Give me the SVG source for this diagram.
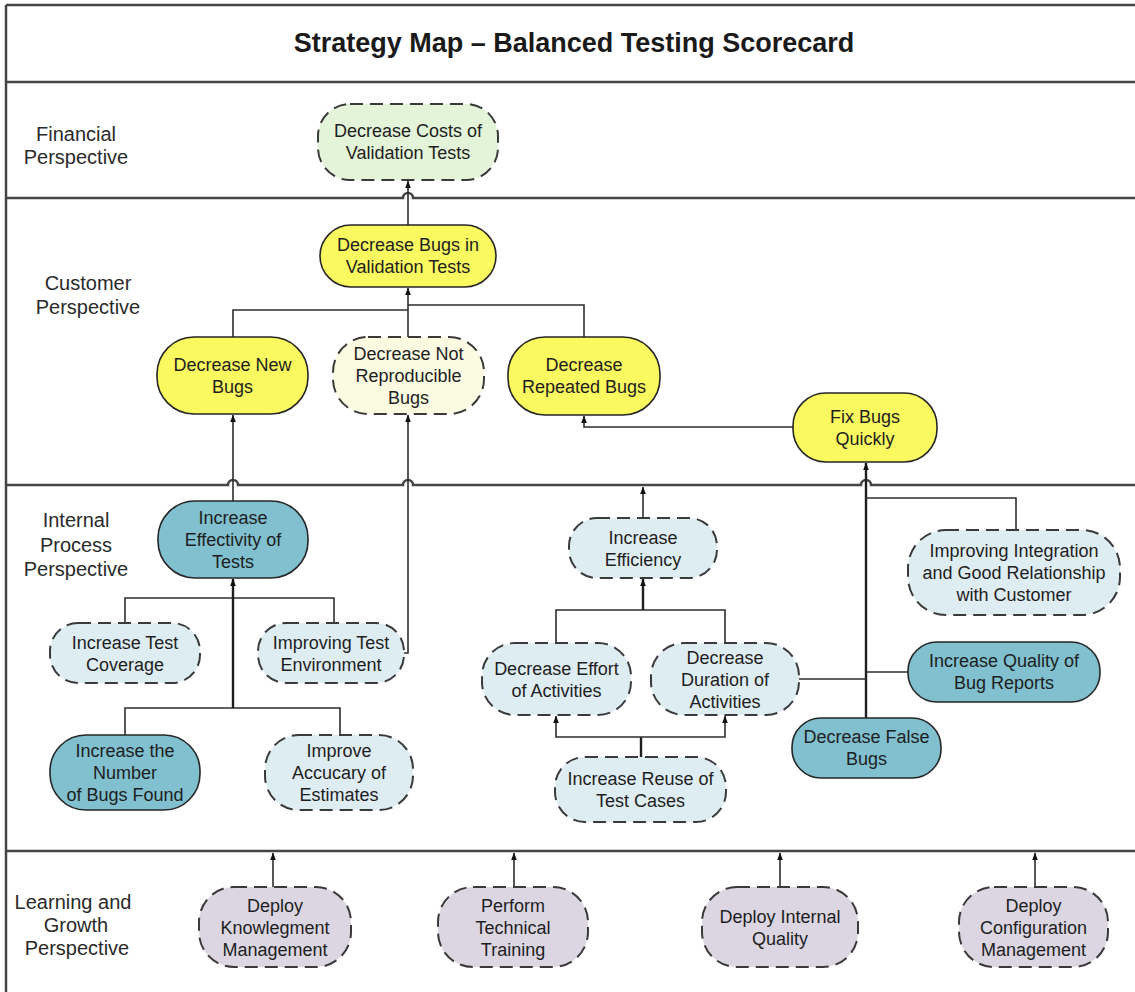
<svg xmlns="http://www.w3.org/2000/svg" width="1135" height="992" viewBox="0 0 1135 992">
<defs>
<marker id="arr" markerUnits="userSpaceOnUse" markerWidth="8" markerHeight="8" refX="7" refY="4" orient="auto">
<path d="M0,1.2 L7.5,4 L0,6.8 z" fill="#111"/>
</marker>
<style>
.band{fill:none;stroke:#454545;stroke-width:2.5}
.lbl{font-family:"Liberation Sans",Arial,sans-serif;font-size:20px;fill:#2a2a2a;text-anchor:middle}
.title{font-family:"Liberation Sans",Arial,sans-serif;font-size:27px;font-weight:bold;fill:#1a1a1a;text-anchor:middle}
.t{font-family:"Liberation Sans",Arial,sans-serif;font-size:18px;fill:#1e1e1e;text-anchor:middle}
.solid{stroke:#262626;stroke-width:1.6}
.dash{stroke:#3a3a3a;stroke-width:2;stroke-dasharray:13 7}
.green{fill:#e3f4d8}
.yellow{fill:#fafa60}
.ltyellow{fill:#fbfbe2}
.teal{fill:#80c0cf}
.ltblue{fill:#deedf2}
.purple{fill:#dbd6e2}
.c{fill:none;stroke:#2e2e2e;stroke-width:1.6}
.ct{fill:none;stroke:#1e1e1e;stroke-width:2.4}
</style>
</defs>
<rect x="0" y="0" width="1135" height="992" fill="#ffffff"/>

<g id="frame">
<path class="band" d="M6 5 H1135 M6 5 V992"/>
<path class="band" d="M6 82 H1135"/>
<path class="band" d="M6 198 H403 A5 5 0 0 1 413 198 H1135"/>
<path class="band" d="M6 485 H228 A5 5 0 0 1 238 485 H403 A5 5 0 0 1 413 485 H861 A5 5 0 0 1 871 485 H1135"/>
<path class="band" d="M6 851 H1135"/>
</g>

<g id="labels">
<text class="title" x="574" y="52">Strategy Map – Balanced Testing Scorecard</text>
<text class="lbl" x="76" y="141">Financial</text>
<text class="lbl" x="76" y="164">Perspective</text>
<text class="lbl" x="88" y="290">Customer</text>
<text class="lbl" x="88" y="314">Perspective</text>
<text class="lbl" x="76" y="527">Internal</text>
<text class="lbl" x="76" y="552">Process</text>
<text class="lbl" x="76" y="576">Perspective</text>
<text class="lbl" x="73" y="909">Learning and</text>
<text class="lbl" x="76" y="932">Growth</text>
<text class="lbl" x="77" y="955">Perspective</text>
</g>

<g id="connectors">
<path class="c" d="M408 225 V181" marker-end="url(#arr)"/>
<path class="c" d="M233 337 V310 H408"/>
<path class="c" d="M584 337 V305 H408"/>
<path class="c" d="M408 337 V288" marker-end="url(#arr)"/>
<path class="c" d="M793 427 H584 V416" marker-end="url(#arr)"/>
<path class="c" d="M233 501 V415" marker-end="url(#arr)"/>
<path class="c" d="M404 653 H408 V415" marker-end="url(#arr)"/>
<path class="c" d="M125 623 V598 H334 V623"/>
<path class="c" d="M125 735 V708 H340 V735"/>
<path class="ct" d="M233 708 V579" marker-end="url(#arr)"/>
<path class="c" d="M643 518 V487" marker-end="url(#arr)"/>
<path class="c" d="M556 643 V610 H725 V643"/>
<path class="ct" d="M643 610 V579" marker-end="url(#arr)"/>
<path class="ct" d="M641 757 V737"/>
<path class="c" d="M641 737 H556 V716" marker-end="url(#arr)"/>
<path class="c" d="M641 737 H725 V716" marker-end="url(#arr)"/>
<path class="ct" d="M866 718 V463" marker-end="url(#arr)"/>
<path class="c" d="M866 498 H1016 V530"/>
<path class="c" d="M799 679 H866"/>
<path class="c" d="M866 672 H908"/>
<path class="c" d="M273 887 V853" marker-end="url(#arr)"/>
<path class="c" d="M514 887 V853" marker-end="url(#arr)"/>
<path class="c" d="M780 887 V853" marker-end="url(#arr)"/>
<path class="c" d="M1035 887 V853" marker-end="url(#arr)"/>
</g>

<g id="n-fin">
<rect class="green dash" x="318" y="104" width="180" height="76" rx="32"/>
<text class="t" x="408" y="137">Decrease Costs of</text>
<text class="t" x="408" y="159">Validation Tests</text>
</g>

<g id="n-bugs-validation">
<rect class="yellow solid" x="320" y="225" width="176" height="62" rx="31"/>
<text class="t" x="408" y="251">Decrease Bugs in</text>
<text class="t" x="408" y="273">Validation Tests</text>
</g>

<g id="n-new-bugs">
<rect class="yellow solid" x="157" y="337" width="151" height="77" rx="37"/>
<text class="t" x="232.5" y="371">Decrease New</text>
<text class="t" x="232.5" y="393">Bugs</text>
</g>

<g id="n-not-reproducible">
<rect class="ltyellow dash" x="333" y="337" width="151" height="77" rx="35"/>
<text class="t" x="408.5" y="360">Decrease Not</text>
<text class="t" x="408.5" y="382">Reproducible</text>
<text class="t" x="408.5" y="404">Bugs</text>
</g>

<g id="n-repeated">
<rect class="yellow solid" x="508" y="337" width="152" height="78" rx="37"/>
<text class="t" x="584" y="371">Decrease</text>
<text class="t" x="584" y="393">Repeated Bugs</text>
</g>

<g id="n-fix">
<rect class="yellow solid" x="793" y="393" width="144" height="69" rx="33"/>
<text class="t" x="865" y="423">Fix Bugs</text>
<text class="t" x="865" y="445">Quickly</text>
</g>

<g id="n-effectivity">
<rect class="teal solid" x="158" y="501" width="150" height="77" rx="37"/>
<text class="t" x="233" y="524">Increase</text>
<text class="t" x="233" y="546">Effectivity of</text>
<text class="t" x="233" y="568">Tests</text>
</g>

<g id="n-coverage">
<rect class="ltblue dash" x="50" y="623" width="150" height="60" rx="28"/>
<text class="t" x="125" y="649">Increase Test</text>
<text class="t" x="125" y="671">Coverage</text>
</g>

<g id="n-test-env">
<rect class="ltblue dash" x="258" y="623" width="146" height="60" rx="28"/>
<text class="t" x="331" y="649">Improving Test</text>
<text class="t" x="331" y="671">Environment</text>
</g>

<g id="n-number-bugs">
<rect class="teal solid" x="50" y="735" width="150" height="75" rx="36"/>
<text class="t" x="125" y="757">Increase the</text>
<text class="t" x="125" y="779">Number</text>
<text class="t" x="125" y="801">of Bugs Found</text>
</g>

<g id="n-accuracy">
<rect class="ltblue dash" x="265" y="735" width="148" height="75" rx="34"/>
<text class="t" x="339" y="757">Improve</text>
<text class="t" x="339" y="779">Accucary of</text>
<text class="t" x="339" y="801">Estimates</text>
</g>

<g id="n-efficiency">
<rect class="ltblue dash" x="569" y="518" width="148" height="60" rx="28"/>
<text class="t" x="643" y="544">Increase</text>
<text class="t" x="643" y="566">Efficiency</text>
</g>

<g id="n-effort">
<rect class="ltblue dash" x="482" y="643" width="149" height="72" rx="33"/>
<text class="t" x="556.5" y="675">Decrease Effort</text>
<text class="t" x="556.5" y="697">of Activities</text>
</g>

<g id="n-duration">
<rect class="ltblue dash" x="651" y="643" width="148" height="72" rx="33"/>
<text class="t" x="725" y="664">Decrease</text>
<text class="t" x="725" y="686">Duration of</text>
<text class="t" x="725" y="708">Activities</text>
</g>

<g id="n-reuse">
<rect class="ltblue dash" x="555" y="757" width="171" height="65" rx="30"/>
<text class="t" x="640.5" y="785">Increase Reuse of</text>
<text class="t" x="640.5" y="807">Test Cases</text>
</g>

<g id="n-integration">
<rect class="ltblue dash" x="908" y="530" width="212" height="85" rx="38"/>
<text class="t" x="1014" y="557">Improving Integration</text>
<text class="t" x="1014" y="579">and Good Relationship</text>
<text class="t" x="1014" y="601">with Customer</text>
</g>

<g id="n-quality">
<rect class="teal solid" x="908" y="642" width="192" height="60" rx="29"/>
<text class="t" x="1004" y="667">Increase Quality of</text>
<text class="t" x="1004" y="689">Bug Reports</text>
</g>

<g id="n-false-bugs">
<rect class="teal solid" x="792" y="718" width="149" height="60" rx="29"/>
<text class="t" x="866.5" y="743">Decrease False</text>
<text class="t" x="866.5" y="765">Bugs</text>
</g>

<g id="n-knowledge">
<rect class="purple dash" x="199" y="887" width="152" height="80" rx="35"/>
<text class="t" x="275" y="912">Deploy</text>
<text class="t" x="275" y="934">Knowlegment</text>
<text class="t" x="275" y="956">Management</text>
</g>

<g id="n-training">
<rect class="purple dash" x="438" y="887" width="150" height="80" rx="35"/>
<text class="t" x="513" y="912">Perform</text>
<text class="t" x="513" y="934">Technical</text>
<text class="t" x="513" y="956">Training</text>
</g>

<g id="n-internal-quality">
<rect class="purple dash" x="702" y="887" width="156" height="80" rx="35"/>
<text class="t" x="780" y="923">Deploy Internal</text>
<text class="t" x="780" y="945">Quality</text>
</g>

<g id="n-config">
<rect class="purple dash" x="959" y="887" width="149" height="80" rx="35"/>
<text class="t" x="1033.5" y="912">Deploy</text>
<text class="t" x="1033.5" y="934">Configuration</text>
<text class="t" x="1033.5" y="956">Management</text>
</g>
</svg>
